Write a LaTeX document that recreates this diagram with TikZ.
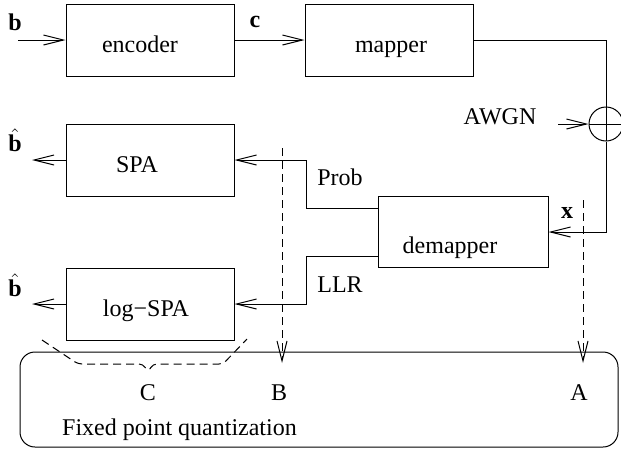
\documentclass[tikz,border=0pt]{standalone}
\usepackage{fontspec}
\setmainfont{Liberation Serif}
\usetikzlibrary{arrows.meta}

\begin{document}
\begin{tikzpicture}[x=0.5pt, y=-0.5pt, line width=0.5pt,
    every node/.style={font=\fontsize{12}{14}\selectfont}]
    \tikzset{block/.style={rectangle, draw, minimum width=84pt, minimum height=36pt, inner sep=0pt},
             blocktext/.style={anchor=base, inner sep=0pt},
             sig/.style={-{Straight Barb[length=10pt, width=5pt]}},
             probe/.style={sig, dash pattern=on 4pt off 2.5pt}}

    \useasboundingbox (0,0) rectangle (621,450);

    \node[block] (enc) at (150,40) {};
    \node[block] (map) at (389,40) {};
    \node[block] (spa) at (150,160) {};
    \node[block] (logspa) at (150,304) {};
    \node[block, minimum width=85pt, minimum height=35.5pt] (demap) at (463,232) {};
    \node[circle, draw, minimum size=17pt, inner sep=0pt,
          path picture={\draw (path picture bounding box.north) -- (path picture bounding box.south)
                              (path picture bounding box.west) -- (path picture bounding box.east);}]
          (add) at (606,124) {};
    \node[rectangle, draw, rounded corners=7.5pt, minimum width=299pt, minimum height=47.5pt] (fxp) at (319,399.5) {};

    \node[blocktext] (enctxt) at (140,52) {encoder};
    \node[blocktext] (maptxt) at (391,52) {mapper};
    \node[blocktext] (spatxt) at (137,172) {SPA};
    \node[blocktext] (logspatxt) at (146,316) {log−SPA};
    \node[blocktext] (demaptxt) at (450,253) {demapper};

    \node (b) at (15,22) {\textbf{b}};
    \node (c) at (255,22) {\textbf{c}};
    \node (x) at (567,213) {\textbf{x}};
    \node (awgn) at (500,117) {AWGN};
    \node (prob) at (340,177) {Prob};
    \node (llr) at (340,285) {LLR};
    \node (bh1) at (15,140) {$\hat{\textbf{b}}$};
    \node (bh2) at (15,285) {$\hat{\textbf{b}}$};
    \node (qa) at (579,393) {A};
    \node (qb) at (279,393) {B};
    \node (qc) at (148,393) {C};
    \node[anchor=west] (fxplbl) at (55,430) {Fixed point quantization};

    \coordinate (bin) at (18,40);
    \coordinate (nin) at (558,124);
    \coordinate (out1) at (32,160);
    \coordinate (out2) at (32,304);
    \coordinate (ptop) at (282,148);
    \coordinate (pb) at (282,363);
    \coordinate (xtop) at (583,200);
    \coordinate (pa) at (583,363);

    \draw[sig] (bin) -- (enc);
    \draw[sig] (enc) -- (map);
    \draw (map.east) -| (add.north);
    \draw[sig] (nin) -- (add.west);
    \draw[sig] (add.south) |- (demap.east);
    \draw[sig] ([yshift=12pt]demap.west) -- ++(-35.5pt,0) |- (spa.east);
    \draw[sig] ([yshift=-12pt]demap.west) -- ++(-35.5pt,0) |- (logspa.east);
    \foreach \src/\dest in {spa/out1, logspa/out2} {
        \draw[sig] (\src.west) -- (\dest);
    }

    \draw[probe] (ptop) -- (pb);
    \draw[probe] (xtop) -- (pa);
    \draw[dash pattern=on 4pt off 2.5pt, rounded corners=2pt]
        (42,340) -- (78,364) -- (143,364) -- (148,372) -- (153,364) -- (223,364) -- (247,339);
\end{tikzpicture}
\end{document}
